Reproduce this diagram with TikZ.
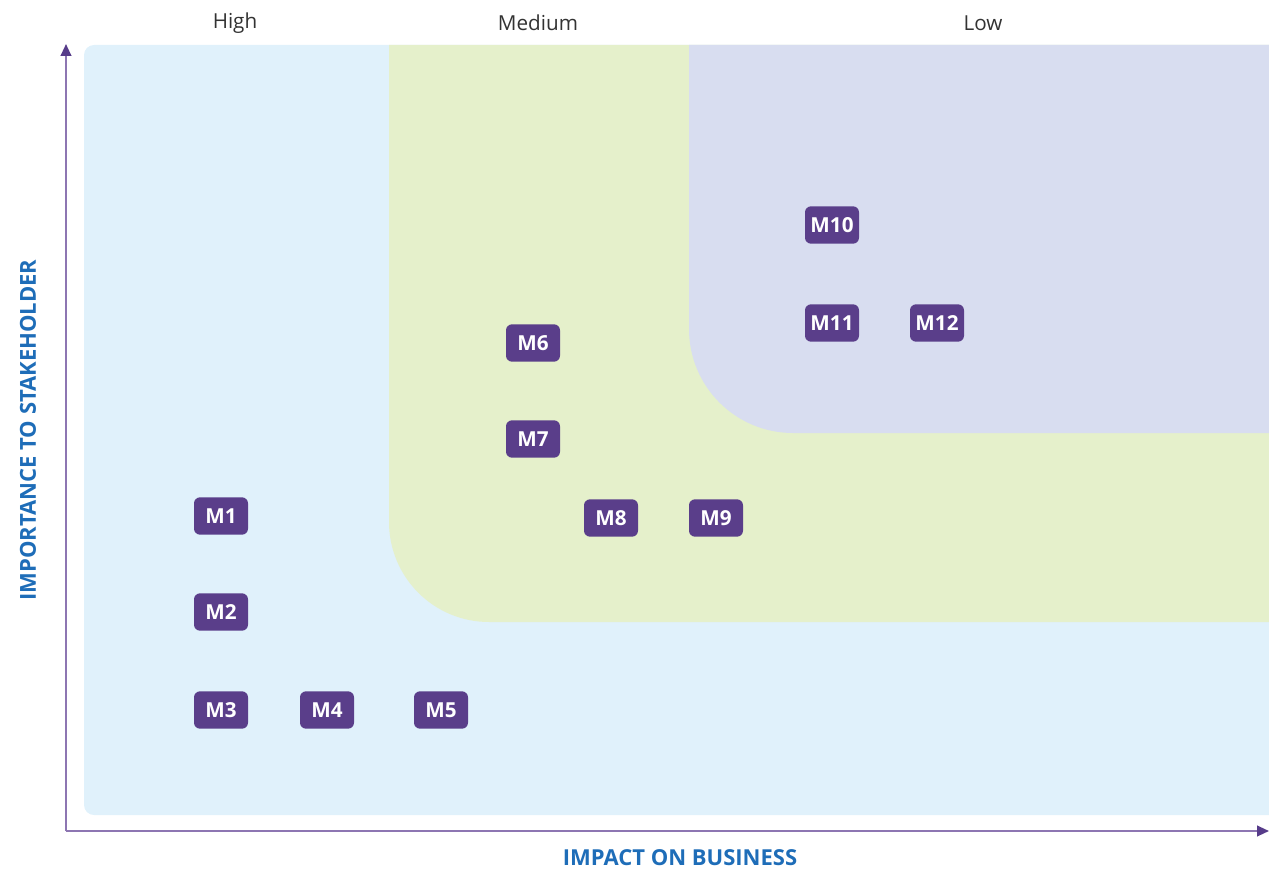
\documentclass[tikz,border=0pt]{standalone}
\usepackage{fontspec}
\setmainfont{Open Sans}
\usetikzlibrary{arrows.meta}
\definecolor{bgblue}{HTML}{E0F1FB}
\definecolor{bggreen}{HTML}{E5F0CB}
\definecolor{bglav}{HTML}{D8DDF0}
\definecolor{boxpurple}{HTML}{5A3E8A}
\definecolor{axisline}{HTML}{8D76B2}
\definecolor{axishead}{HTML}{573C8A}
\definecolor{axistext}{HTML}{1E6DB8}
\definecolor{headtext}{HTML}{333333}
\tikzset{
  mbox/.style={fill=boxpurple, text=white, rounded corners=4.5pt, minimum width=40.5pt, minimum height=28pt, inner sep=0pt, font=\fontsize{15.5}{18}\selectfont\bfseries},
  axis/.style={draw=axisline, line width=1.5pt, -{Triangle[length=9pt,width=8pt,color=axishead]}},
  header/.style={text=headtext, font=\fontsize{15.5}{18}\selectfont},
  axislabel/.style={text=axistext, font=\fontsize{16.5}{19}\selectfont\bfseries}
}
\begin{document}
\begin{tikzpicture}[x=0.75pt,y=-0.75pt]
\useasboundingbox (0,0) rectangle (1269,873);
% background zones
\fill[bgblue, rounded corners=7.5pt] (84,45) rectangle (1290,815);
\fill[white] (1269,0) rectangle (1300,873);
\fill[bggreen] (1269,45) -- (389,45) [rounded corners=75pt] -- (389,622) [sharp corners] -- (1269,622) -- cycle;
\fill[bglav] (1269,45) -- (689,45) [rounded corners=78pt] -- (689,433) [sharp corners] -- (1269,433) -- cycle;
% headers
\node[header] (hHigh) at (235,23) {High};
\node[header] (hMed) at (538,23) {Medium};
\node[header] (hLow) at (983,23) {Low};
% axes
\coordinate (origin) at (66,831);
\coordinate (ytop) at (66,44);
\coordinate (xend) at (1269,831);
\draw[axis] (origin) -- (ytop);
\draw[axis] (origin) -- (xend);
\node[axislabel] (xlabel) at (680,858) {IMPACT ON BUSINESS};
\node[axislabel, rotate=90] (ylabel) at (28,430) {IMPORTANCE TO STAKEHOLDER};
% items
\node[mbox] (m1) at (221,516) {M1};
\node[mbox] (m2) at (221,612) {M2};
\node[mbox] (m3) at (221,710) {M3};
\node[mbox] (m4) at (327,710) {M4};
\node[mbox] (m5) at (441,710) {M5};
\node[mbox] (m6) at (533,343) {M6};
\node[mbox] (m7) at (533,439) {M7};
\node[mbox] (m8) at (611,518) {M8};
\node[mbox] (m9) at (716,518) {M9};
\node[mbox] (m10) at (832,225) {M10};
\node[mbox] (m11) at (832,323) {M11};
\node[mbox] (m12) at (937,323) {M12};
\end{tikzpicture}
\end{document}
